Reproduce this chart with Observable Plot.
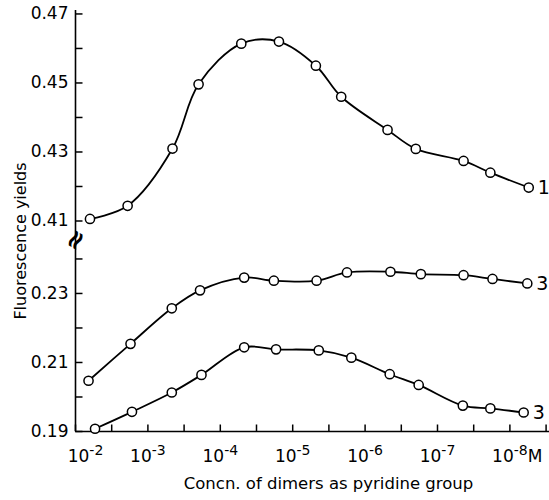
<!DOCTYPE html>
<html><head><meta charset="utf-8">
<script src="https://cdn.jsdelivr.net/npm/d3@7"></script>
<script src="https://cdn.jsdelivr.net/npm/@observablehq/plot@0.6"></script>
<style>
body{margin:0;background:#fff}
#chart{width:549px;height:500px}
</style>
</head><body><div id="chart"></div>
<script>
// ---- data (concentration given as log10 of molarity) ----
const seriesNames  = ["1", "3a", "3b"];
const seriesLabels = ["1", "3", "3"];

const logConc1 = [-2.20, -2.72, -3.34, -3.70, -4.29, -4.81, -5.32, -5.67, -6.31, -6.70, -7.36, -7.73, -8.26];
const yield1   = [0.4106, 0.4144, 0.4310, 0.4496, 0.4614, 0.4620, 0.4550, 0.4460, 0.4364, 0.4309, 0.4274, 0.4240, 0.4197];

const logConc3a = [-2.18, -2.76, -3.33, -3.72, -4.33, -4.74, -5.33, -5.75, -6.35, -6.77, -7.36, -7.76, -8.24];
const yield3a   = [0.2047, 0.2154, 0.2257, 0.2309, 0.2346, 0.2337, 0.2337, 0.2361, 0.2363, 0.2356, 0.2353, 0.2342, 0.2329];

const logConc3b = [-2.27, -2.78, -3.33, -3.74, -4.33, -4.77, -5.36, -5.81, -6.34, -6.74, -7.35, -7.73, -8.19];
const yield3b   = [0.1908, 0.1957, 0.2013, 0.2064, 0.2144, 0.2138, 0.2135, 0.2114, 0.2066, 0.2035, 0.1975, 0.1967, 0.1955];

// ---- axis ticks ----
const xDecadeExps = [-2, -3, -4, -5, -6, -7, -8];
const xHalfExps   = [-2.5, -3.5, -4.5, -5.5, -6.5, -7.5, -8.5];
const xUnit = "M";
const xDomainExps = [-2, -8.547];

const yTicksLower = [0.19, 0.20, 0.21, 0.22, 0.23, 0.24];
const yTicksUpper = [0.41, 0.42, 0.43, 0.44, 0.45, 0.46, 0.47];
const yMajor      = [0.19, 0.21, 0.23, 0.41, 0.43, 0.45, 0.47];

const yLabel = "Fluorescence yields";
const xLabel = "Concn. of dimers as pyridine group";

// ---- broken y axis: upper panel shifted down ----
const breakShift = 0.159;          // upper values are drawn shifted by this amount
const breakSplit = 0.30;
const yb = v => v >= breakSplit ? v - breakShift : v;
const yDomain = [0.19, yb(0.471)];
const breakMid = (yb(0.41) + 0.24) / 2;

// ---- build table ----
const concs = [logConc1, logConc3a, logConc3b];
const yields = [yield1, yield3a, yield3b];
const rows = [];
seriesNames.forEach((s, k) => {
  concs[k].forEach((e, i) => rows.push({series: s, conc: Math.pow(10, e), y: yb(yields[k][i])}));
});
const lastRows = seriesNames.map((s, k) => {
  const n = concs[k].length - 1;
  return {label: seriesLabels[k], conc: Math.pow(10, concs[k][n]), y: yb(yields[k][n])};
});

const xTickVals = [...xDecadeExps, ...xHalfExps].map(e => Math.pow(10, e));
const yTickVals = [...yTicksLower, ...yTicksUpper];
const yTickText = new Map(yTickVals.map(v => [yb(v), yMajor.some(m => Math.abs(m - v) < 1e-9) ? v.toFixed(2) : ""]));

const FONT = "DejaVu Sans";
const x0 = Math.pow(10, xDomainExps[0]);

// inward tick marks drawn as custom dot symbols (length = dot radius)
const tickUp    = {draw(context, size) { const l = Math.sqrt(size / Math.PI); context.moveTo(0, 0); context.lineTo(0, -l); }};
const tickRight = {draw(context, size) { const l = Math.sqrt(size / Math.PI); context.moveTo(0, 0); context.lineTo(l, 0); }};

const chart = Plot.plot({
  width: 549,
  height: 500,
  marginLeft: 75,
  marginRight: 0,
  marginTop: 10,
  marginBottom: 69,
  style: {fontFamily: FONT, background: "white", color: "black"},
  x: {type: "log", domain: xDomainExps.map(e => Math.pow(10, e)), axis: null},
  y: {type: "linear", domain: yDomain, axis: null},
  marks: [
    Plot.ruleX([x0], {stroke: "black", strokeWidth: 1.6}),
    Plot.ruleY([yDomain[0]], {stroke: "black", strokeWidth: 1.6}),
    Plot.dot(xTickVals, {x: d => d, y: yDomain[0], r: 7, symbol: tickUp, fill: "none", stroke: "black", strokeWidth: 1.5}),
    Plot.dot(yTickVals.map(yb), {x: x0, y: d => d, r: 7, symbol: tickRight, fill: "none", stroke: "black", strokeWidth: 1.5}),
    // tick labels
    Plot.axisX(xTickVals, {
      label: null, tickSize: 0, tickPadding: 18, fontSize: 17,
      tickFormat: d => {
        const e = Math.log10(d);
        return Math.abs(e - Math.round(e)) < 1e-6 ? String(Math.round(e)) : "";
      }
    }),
    Plot.axisY(yTickVals.map(yb), {
      label: null, tickSize: 0, tickPadding: 7, fontSize: 17,
      tickFormat: d => yTickText.get(d) ?? ""
    }),
    Plot.text([yLabel], {text: d => d, frameAnchor: "left", textAnchor: "middle", dx: -55, dy: 20, rotate: -90, fontSize: 16}),
    Plot.text([xLabel], {text: d => d, frameAnchor: "bottom", dx: 16, dy: 57, fontSize: 16.5}),
    Plot.text(["≈"], {x: x0, y: breakMid, text: d => d, rotate: -60, fontSize: 26, fontWeight: "bold"}),
    Plot.line(rows, {x: "conc", y: "y", z: "series", curve: "catmull-rom", stroke: "black", strokeWidth: 1.8}),
    Plot.dot(rows, {x: "conc", y: "y", r: 4.6, fill: "white", stroke: "black", strokeWidth: 1.5}),
    Plot.text(lastRows, {x: "conc", y: "y", text: "label", dx: 9, textAnchor: "start", fontSize: 19})
  ]
});
document.getElementById("chart").appendChild(chart);

// superscript tick labels: 10^n
const svgNS = "http://www.w3.org/2000/svg";
chart.querySelectorAll('g[aria-label="x-axis tick label"] text').forEach(t => {
  const exp = t.textContent;
  if (!exp) return;
  t.textContent = "";
  const base = document.createElementNS(svgNS, "tspan");
  base.textContent = "10";
  const sup = document.createElementNS(svgNS, "tspan");
  sup.textContent = exp;
  sup.setAttribute("dy", "-0.45em");
  sup.setAttribute("font-size", "14");
  t.appendChild(base); t.appendChild(sup);
  const w = t.getComputedTextLength();
  t.setAttribute("text-anchor", "start");
  const isFirst = Number(exp) === xDecadeExps[0];
  t.setAttribute("x", String(-w / 2 + (isFirst ? 10 : 0)));
  if (Number(exp) === xDecadeExps[xDecadeExps.length - 1]) {
    const m = document.createElementNS(svgNS, "tspan");
    m.textContent = xUnit;
    m.setAttribute("dy", "0.38em");
    t.appendChild(m);
  }
});
</script>
</body></html>
